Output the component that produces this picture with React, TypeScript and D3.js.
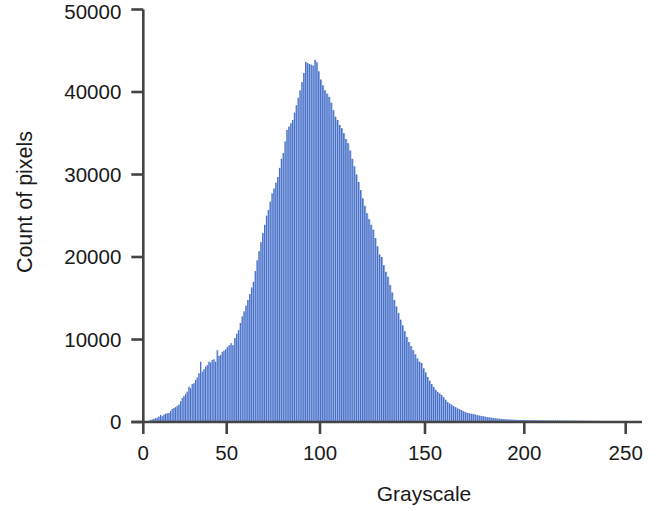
import React, { useRef, useEffect } from 'react';
import * as d3 from 'd3';

// pixel count per grayscale level 0..255
const counts: number[] = [
  40, 60, 100, 150, 250, 300, 380, 450, 520, 650,
  850, 700, 900, 1000, 1050, 1100, 1350, 1575, 1700, 1800,
  1950, 2100, 2500, 2900, 3150, 3400, 3670, 4280, 4100, 4600,
  4700, 5090, 5400, 5900, 7300, 6100, 6400, 6700, 6900, 7300,
  7200, 7500, 7600, 7300, 8700, 8000, 8100, 8500, 8640, 8800,
  9060, 9300, 9550, 9300, 10180, 10700, 11150, 12000, 12800, 13400,
  14100, 14800, 15500, 16300, 17000, 18300, 19600, 20700, 21800, 22900,
  23900, 25000, 25700, 26700, 27700, 28300, 29000, 29700, 30800, 31900,
  32600, 34000, 35400, 35800, 36200, 36600, 37500, 38400, 39300, 40200,
  41200, 42300, 43650, 43500, 43400, 43300, 43200, 43900, 43600, 42500,
  41500, 40800, 40200, 39800, 39400, 38700, 37800, 37000, 36600, 36000,
  35600, 35000, 34300, 33800, 32900, 31900, 31000, 30000, 29100, 28100,
  27100, 26200, 25300, 24600, 23900, 23300, 22300, 21300, 20300, 20000,
  19000, 18200, 17600, 16600, 15700, 14800, 14000, 13200, 12400, 11700,
  11000, 10300, 9700, 9200, 8700, 8200, 7700, 7300, 7150, 6500,
  6000, 5450, 5000, 4600, 4250, 3900, 3650, 3450, 3270, 3000,
  2700, 2420, 2250, 2100, 1940, 1800, 1650, 1550, 1450, 1300,
  1200, 1090, 1040, 1000, 970, 900, 830, 780, 730, 690,
  640, 600, 560, 520, 480, 450, 420, 400, 380, 360,
  340, 320, 300, 290, 280, 270, 260, 250, 240, 230,
  220, 220, 210, 215, 205, 210, 200, 205, 195, 200,
  190, 195, 185, 190, 180, 185, 175, 180, 170, 175,
  165, 170, 160, 165, 155, 160, 150, 155, 150, 145,
  150, 140, 145, 140, 135, 140, 130, 135, 120, 110,
  90, 40, 0, 0, 0, 0, 0, 0, 0, 0,
  0, 0, 0, 0, 0, 0,
];

const xTicks = [0, 50, 100, 150, 200, 250];
const yTicks = [0, 10000, 20000, 30000, 40000, 50000];
const xTitle = 'Grayscale';
const yTitle = 'Count of pixels';

export default function App() {
  const ref = useRef<SVGSVGElement>(null);

  useEffect(() => {
    const svg = d3.select(ref.current);
    svg.selectAll('*').remove();

    const font = '"Liberation Sans", Arial, sans-serif';
    const axisColor = '#444';
    const textColor = '#1a1a1a';
    const tickLen = 12;

    // tick spacing in the reference is a bit uneven, so use a piecewise linear scale
    const x = d3.scaleLinear()
      .domain([0, 50, 100, 150, 200, 250, 258])
      .range([143.3, 226.7, 320, 425, 524.3, 625.7, 642]);
    const y = d3.scaleLinear().domain([0, 50000]).range([422, 9.5]);

    // bars: light full-width backing plus darker core, like the reference stripes
    const bars = svg.append('g').selectAll('g').data(counts).join('g');
    bars.append('rect')
      .attr('x', (_, i) => x(i))
      .attr('width', (_, i) => x(i + 1) - x(i))
      .attr('y', d => y(d))
      .attr('height', d => y(0) - y(d))
      .attr('fill', '#a6bce8');
    bars.append('rect')
      .attr('x', (_, i) => x(i))
      .attr('width', (_, i) => (x(i + 1) - x(i)) * 0.62)
      .attr('y', d => y(d))
      .attr('height', d => y(0) - y(d))
      .attr('fill', '#4870c8');

    const x0 = x(0);
    const yBase = y(0);

    // axis lines
    svg.append('line')
      .attr('x1', x0 - tickLen).attr('x2', x(258))
      .attr('y1', yBase).attr('y2', yBase)
      .attr('stroke', axisColor).attr('stroke-width', 2.6);
    svg.append('line')
      .attr('x1', x0).attr('x2', x0)
      .attr('y1', y(50000)).attr('y2', yBase + 1.3)
      .attr('stroke', axisColor).attr('stroke-width', 2.6);

    // x ticks
    const xt = svg.append('g').selectAll('g').data(xTicks).join('g')
      .attr('transform', d => `translate(${x(d)},${yBase})`);
    xt.append('line').attr('y2', tickLen).attr('stroke', axisColor).attr('stroke-width', 2.6);
    xt.append('text')
      .attr('y', 38)
      .attr('text-anchor', 'middle')
      .attr('font-family', font).attr('font-size', 20.5).attr('fill', textColor)
      .text(d => d);

    // y ticks
    const yt = svg.append('g').selectAll('g').data(yTicks).join('g')
      .attr('transform', d => `translate(${x0},${y(d)})`);
    yt.append('line').attr('x2', -tickLen).attr('stroke', axisColor).attr('stroke-width', 2.6);
    yt.append('text')
      .attr('x', -22)
      .attr('dy', d => (d === 50000 ? '0.45em' : '0.36em'))
      .attr('text-anchor', 'end')
      .attr('font-family', font).attr('font-size', 20.5).attr('fill', textColor)
      .text(d => d);

    // titles
    svg.append('text')
      .attr('x', 424).attr('y', 501)
      .attr('text-anchor', 'middle')
      .attr('font-family', font).attr('font-size', 21).attr('fill', textColor)
      .text(xTitle);
    svg.append('text')
      .attr('transform', 'translate(32,202) rotate(-90)')
      .attr('text-anchor', 'middle')
      .attr('font-family', font).attr('font-size', 21.5).attr('fill', textColor)
      .text(yTitle);
  }, []);

  return (
    <svg ref={ref} width={660} height={511}
      style={{ position: 'absolute', left: 0, top: 0, background: '#fff' }} />
  );
}
